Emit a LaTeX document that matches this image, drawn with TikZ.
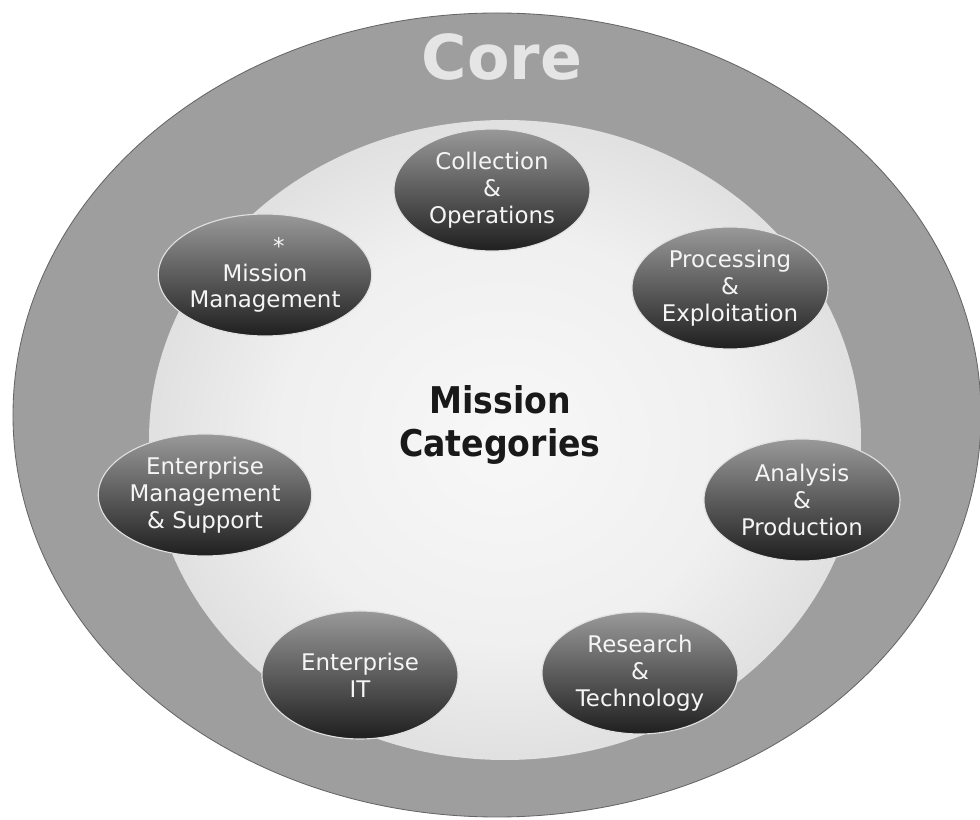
\documentclass[tikz,border=0pt]{standalone}
\usepackage{fontspec}
\setmainfont{DejaVu Sans}
\newfontfamily\narrowfont{DejaVu Sans Condensed}
\usetikzlibrary{shapes.geometric}

\pgfdeclareradialshading{innerglow}{\pgfpoint{0bp}{0bp}}{%
  color(0bp)=(black!3); color(16bp)=(black!6); color(34bp)=(black!18); color(44bp)=(black!28); color(50bp)=(black!38)}

\begin{document}
\begin{tikzpicture}[thick,
  category/.style={ellipse, minimum width=4.9cm, minimum height=3.05cm, inner sep=0pt,
    top color=black!40, bottom color=black!88, draw=black!12, line width=0.8pt,
    text=black!4, align=center, font=\fontsize{16.3}{19}\selectfont},
  ]

  \useasboundingbox (-12.425,-10.125) rectangle (12.075,10.375);

  % -- Outer core ring --
  \fill[black!38] (0,0) ellipse (12.1 and 10.05);
  \draw[black!60, line width=0.6pt] (0,0) ellipse (12.1 and 10.05);
  \node[text=black!10, font=\bfseries\fontsize{44}{44}\selectfont] (core) at (0.125, 8.95) {Core};

  % -- Light inner field --
  \shade[shading=innerglow] (0.2, -0.625) ellipse (8.9 and 8.0);

  % -- Centre title --
  \node[align=center, text=black!90, font=\narrowfont\bfseries\fontsize{26.2}{30.5}\selectfont]
    (title) at (0.075, -0.25) {Mission\\Categories};

  % -- Mission categories --
  \node[category] (colops)     at (-0.125, 5.625) {Collection\\\&\\Operations};
  \node[category] (missmgmt)   at (-5.8, 3.5)     {\hspace*{1.2em}*\\Mission\\Management};
  \node[category] (procexp)    at (5.825, 3.175)  {Processing\\\&\\Exploitation};
  \node[category] (entmgmt)    at (-7.3, -2.0)    {Enterprise\\Management\\\& Support};
  \node[category] (anaprod)    at (7.625, -2.125) {Analysis\\\&\\Production};
  \node[category, minimum height=3.2cm] (enterprise) at (-3.425, -6.5) {Enterprise\\IT};
  \node[category] (restech)    at (3.575, -6.45)  {Research\\\&\\Technology};

\end{tikzpicture}
\end{document}
